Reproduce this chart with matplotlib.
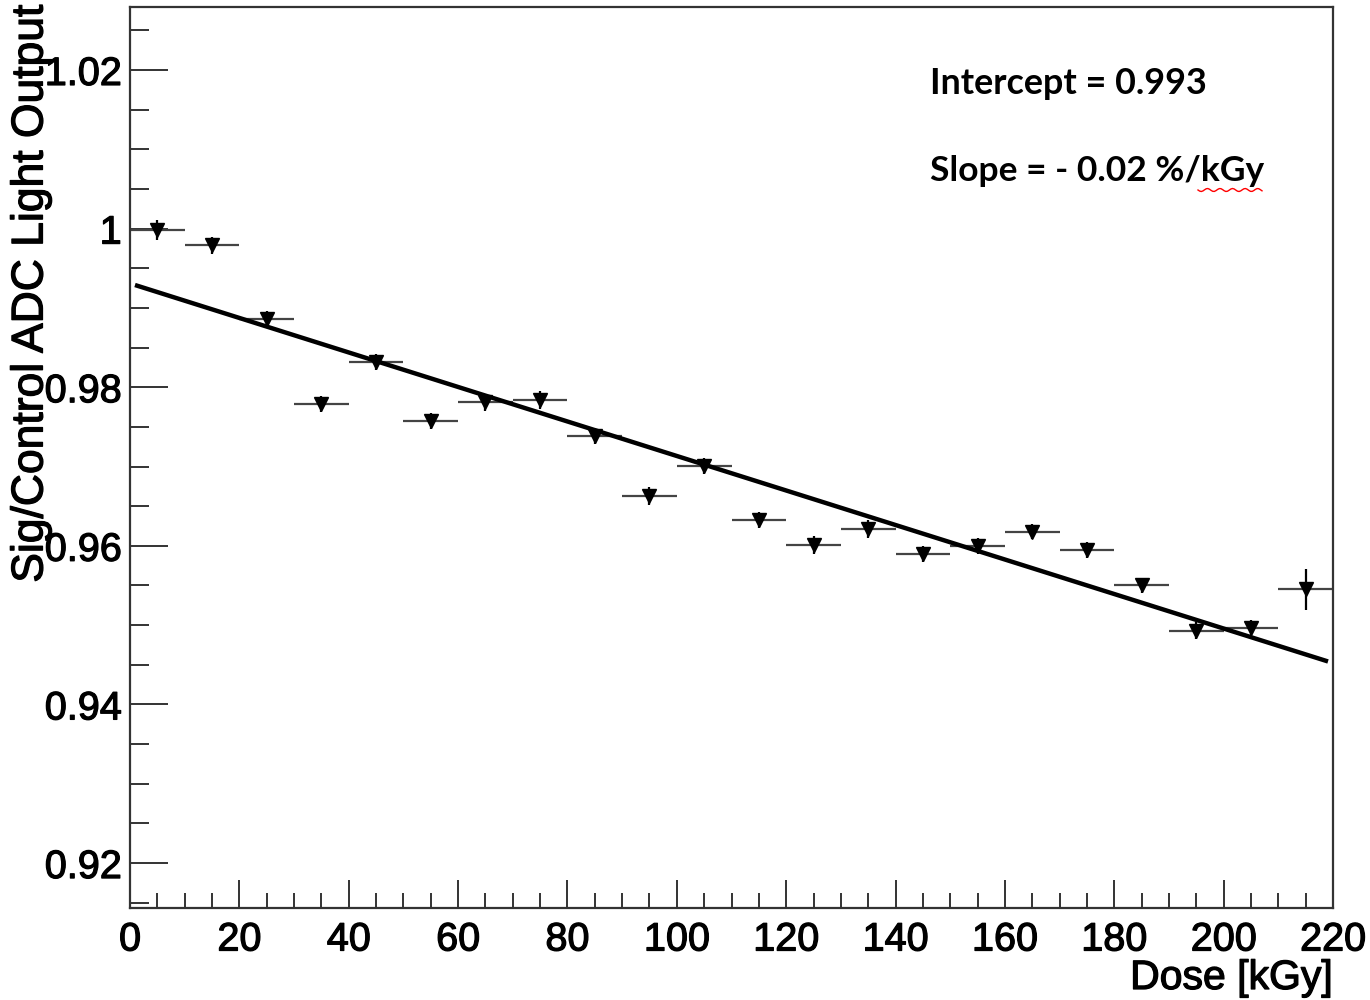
#!/usr/bin/env python3
import matplotlib
matplotlib.use("Agg")
import matplotlib.pyplot as plt
import matplotlib.patheffects as pe
import numpy
from matplotlib.ticker import MultipleLocator, FuncFormatter

# dose bins (kGy) and measured Sig/Control ratio
dose = [5, 15, 25, 35, 45, 55, 65, 75, 85, 95, 105,
        115, 125, 135, 145, 155, 165, 175, 185, 195, 205, 215]
ratio = [0.9998, 0.9979, 0.9886, 0.9779, 0.9832, 0.9757, 0.9781, 0.9784,
         0.9738, 0.9663, 0.9701, 0.9633, 0.9601, 0.9621, 0.9590, 0.9600,
         0.9618, 0.9595, 0.9550, 0.9493, 0.9496, 0.9545]
dose_err = [5] * 22
ratio_err = [0.0013, 0.0011, 0.0010, 0.0010, 0.0010, 0.0010, 0.0011, 0.0011,
             0.0010, 0.0011, 0.0010, 0.0010, 0.0011, 0.0011, 0.0010, 0.0010,
             0.0010, 0.0010, 0.0010, 0.0011, 0.0010, 0.0026]

# fitted line end points
fit_x = [1.3, 218.7]
fit_y = [0.9928, 0.9455]

plt.rcParams['font.family'] = ['Liberation Sans', 'DejaVu Sans']
thick = [pe.withStroke(linewidth=0.9, foreground='black')]

fig = plt.figure(figsize=(13.7, 10), dpi=100)
ax = fig.add_axes([130 / 1370, 1 - 908 / 1000, 1203 / 1370, 901 / 1000])

ax.errorbar(dose, ratio, xerr=dose_err, fmt='none', ecolor='#444444',
            elinewidth=1.6, capsize=0)
ax.plot(dose, ratio, linestyle='none', marker='v', markersize=10,
        color='black', zorder=3)
ax.plot(fit_x, fit_y, color='black', linewidth=3.2, zorder=4)
ax.errorbar(dose, ratio, yerr=ratio_err, fmt='none', ecolor='black',
            elinewidth=1.6, capsize=0, zorder=3)

ax.set_xlim(0, 220)
ax.set_ylim(0.91433, 1.02794)

ax.xaxis.set_major_locator(MultipleLocator(20))
ax.xaxis.set_minor_locator(MultipleLocator(5))
ax.yaxis.set_major_locator(MultipleLocator(0.02))
ax.yaxis.set_minor_locator(MultipleLocator(0.005))
ax.yaxis.set_major_formatter(FuncFormatter(lambda v, p: f"{v:g}"))

ax.tick_params(axis='both', which='both', direction='in', top=False,
               right=False, width=1.4, color='#333333', labelsize=28.5)
ax.tick_params(axis='y', which='major', length=27, pad=6)
ax.tick_params(axis='y', which='minor', length=14)
ax.tick_params(axis='x', which='major', length=20, pad=9)
ax.tick_params(axis='x', which='minor', length=11)
for s in ax.spines.values():
    s.set_linewidth(1.6)
    s.set_color('#333333')
for lab in ax.get_xticklabels() + ax.get_yticklabels():
    lab.set_path_effects(thick)

fig.text(31 / 1370, 1 - 4 / 1000, "Sig/Control ADC Light Output",
         rotation=90, ha='center', va='top', fontsize=32, path_effects=thick)
fig.text(1333 / 1370, 1 - 978 / 1000, "Dose [kGy]", ha='right',
         va='center', fontsize=29.5, path_effects=thick)

fig.text(930 / 1370, 1 - 84 / 1000, "Intercept = 0.993", ha='left',
         va='center', fontsize=25.8, fontweight='bold', family='Lato')
fig.text(930 / 1370, 1 - 171 / 1000, "Slope = - 0.02 %/kGy", ha='left',
         va='center', fontsize=25.5, fontweight='bold', family='Lato')

# spell-check squiggle under "kGy"
wx = numpy.linspace(1198, 1262, 40)
wy = 190 + 1.5 * numpy.sin((wx - 1198) / 2.0)
fig.add_artist(plt.Line2D(wx / 1370, 1 - wy / 1000, color='red',
                          linewidth=1.0))

plt.savefig("out.png", dpi=100)
